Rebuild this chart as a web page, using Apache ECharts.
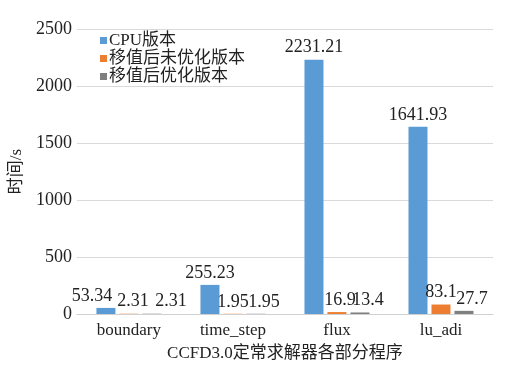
<!DOCTYPE html>
<html>
<head>
<meta charset="utf-8">
<script src="https://cdn.jsdelivr.net/npm/echarts@6/dist/echarts.min.js"></script>
<style>html,body{margin:0;padding:0;background:#fff;}#c{width:520px;height:370px;}</style>
</head>
<body>
<div id="c"></div>
<script>
var categories = ['boundary', 'time_step', 'flux', 'lu_adi'];
var seriesNames = ['CPU版本', '移值后未优化版本', '移值后优化版本'];
var cpuValues = [53.34, 255.23, 2231.21, 1641.93];
var unoptValues = [2.31, 1.95, 16.9, 83.1];
var optValues = [2.31, 1.95, 13.4, 27.7];
var yTicks = [0, 500, 1000, 1500, 2000, 2500];

var FONT = "'Liberation Serif', 'Noto Sans CJK SC', serif";
var colors = ['#5b9bd5', '#ed7d31', '#7f7f7f'];
// label x-shifts (styling only), per series per category
var labelShift = [
  [-14, 0, 0, 0],
  [4, 0, 3, 0],
  [19, 8, 8, 8]
];

function mkSeries(i, vals) {
  return {
    name: seriesNames[i],
    type: 'bar',
    data: vals.map(function (v, j) {
      return { value: v, label: { offset: [labelShift[i][j], 0] } };
    }),
    barWidth: 19,
    barGap: '21%',
    itemStyle: { color: colors[i] },
    label: {
      show: true,
      position: 'top',
      distance: 3,
      color: '#222',
      fontFamily: FONT,
      fontSize: 18,
      formatter: function (p) { return String(p.value); }
    }
  };
}

var chart = echarts.init(document.getElementById('c'), null, { renderer: 'canvas' });
chart.setOption({
  animation: false,
  backgroundColor: '#fff',
  grid: { left: 64, right: 27, top: 29, bottom: 56, containLabel: false },
  legend: {
    orient: 'vertical',
    left: 95,
    top: 27,
    itemWidth: 7,
    itemHeight: 7,
    itemGap: 1,
    icon: 'rect',
    data: seriesNames,
    textStyle: { fontFamily: FONT, fontSize: 17, color: '#222', padding: [0, 0, 0, -3] }
  },
  xAxis: {
    type: 'category',
    data: categories,
    name: 'CCFD3.0定常求解器各部分程序',
    nameLocation: 'middle',
    nameGap: 31,
    nameTextStyle: { fontFamily: FONT, fontSize: 17, color: '#222' },
    axisLine: { lineStyle: { color: '#d0d0d0', width: 1 } },
    axisTick: { show: false },
    axisLabel: { fontFamily: FONT, fontSize: 17, color: '#222', margin: 8 }
  },
  yAxis: {
    type: 'value',
    min: yTicks[0],
    max: yTicks[yTicks.length - 1],
    interval: 500,
    name: '时间/s',
    nameLocation: 'middle',
    nameGap: 50,
    nameRotate: 90,
    nameTextStyle: { fontFamily: FONT, fontSize: 17, color: '#222' },
    axisLine: { show: false },
    axisTick: { show: false },
    splitLine: { lineStyle: { color: '#d9d9d9', width: 1 } },
    axisLabel: {
      fontFamily: FONT, fontSize: 18, color: '#222', margin: 5,
      formatter: function (v) { return String(v); }
    }
  },
  series: [mkSeries(0, cpuValues), mkSeries(1, unoptValues), mkSeries(2, optValues)]
});
</script>
</body>
</html>
